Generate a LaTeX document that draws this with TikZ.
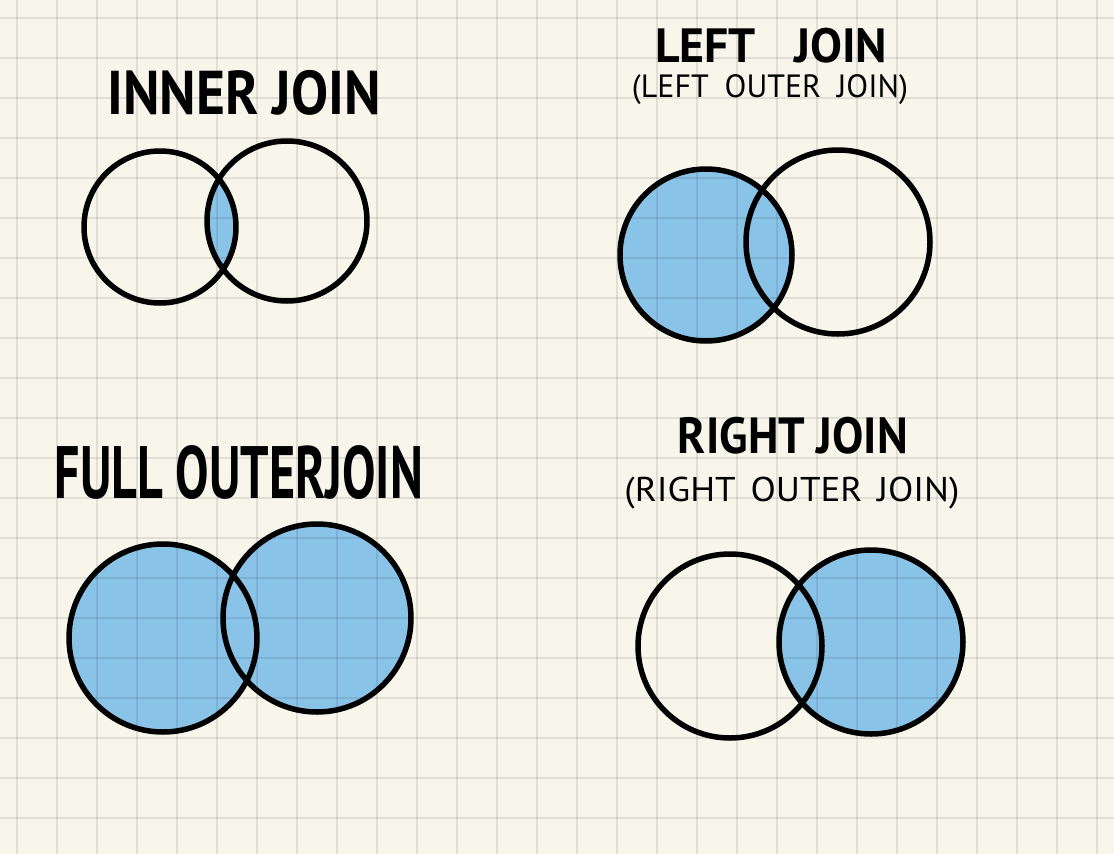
\documentclass[tikz,border=0pt]{standalone}
\usepackage{fontspec}
\setmainfont{PT Sans}
\usepackage{graphicx}
\usepackage{tikz}
\usetikzlibrary{backgrounds}

\definecolor{paper}{RGB}{248,246,235}
\definecolor{marker}{RGB}{138,195,232}
\newcommand{\hand}[3]{\resizebox*{#1}{#2}{#3}}

\begin{document}
\begin{tikzpicture}[
x=1pt, y=-1pt,
ring/.style={draw, circle, line width=5.5pt, inner sep=0pt},
shade/.style={fill=marker},
gridline/.style={black, opacity=0.09, line width=1.8pt},
title/.style={inner sep=0pt, font=\bfseries},
label/.style={inner sep=0pt}
]
\useasboundingbox (0,0) rectangle (1114,854);

% inner join
\node[title] (innerT) at (244,93) {\hand{273pt}{45pt}{INNER JOIN}};
\node[ring, minimum size=152pt] (innerA) at (160,227) {};
\node[ring, minimum size=160pt] (innerB) at (287,221) {};

% left join
\node[title] (leftT) at (771,46) {\hand{232pt}{35pt}{LEFT\hspace{0.8em}JOIN}};
\node[label] (leftS) at (770,90) {\hand{276pt}{30pt}{(LEFT\hspace{0.5em}OUTER\hspace{0.5em}JOIN)}};
\node[ring, minimum size=172pt] (leftA) at (706,255) {};
\node[ring, minimum size=184pt] (leftB) at (838,242) {};

% full outer join
\node[title] (fullT) at (239,473) {\hand{368pt}{54pt}{FULL OUTERJOIN}};
\node[ring, minimum size=188pt] (fullA) at (163,638) {};
\node[ring, minimum size=188pt] (fullB) at (317,618) {};

% right join
\node[title] (rightT) at (793,436) {\hand{230pt}{37pt}{RIGHT JOIN}};
\node[label] (rightS) at (792,493) {\hand{335pt}{32pt}{(RIGHT\hspace{0.4em}OUTER\hspace{0.4em}JOIN)}};
\node[ring, minimum size=184pt] (rightA) at (730,646) {};
\node[ring, minimum size=184pt] (rightB) at (871,642) {};

\begin{scope}[on background layer]
\fill[paper] (0,0) rectangle (1114,854);
% shaded parts
\begin{scope}
\clip (innerA.center) circle (76pt);
\fill[shade] (innerB.center) circle (80pt);
\end{scope}
\fill[shade] (leftA.center) circle (86pt);
\fill[shade] (fullA.center) circle (94pt);
\fill[shade] (fullB.center) circle (94pt);
\fill[shade] (rightB.center) circle (92pt);
% squared paper
\foreach \gx in {0,...,27}
  \draw[gridline] (16.7+40*\gx,0) -- (16.7+40*\gx,854);
\foreach \gy in {0,...,21}
  \draw[gridline] (0,18+40*\gy) -- (1114,18+40*\gy);
\end{scope}
\end{tikzpicture}
\end{document}
